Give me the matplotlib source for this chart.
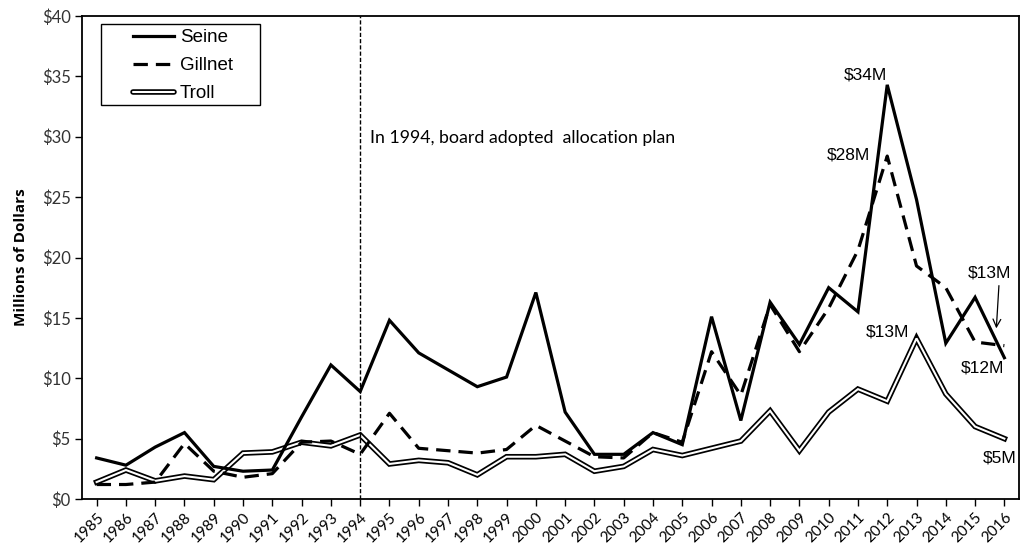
import matplotlib
matplotlib.use("Agg")
import matplotlib.pyplot as plt
import numpy as np
from matplotlib.lines import Line2D
from matplotlib.legend_handler import HandlerTuple
from matplotlib.patches import Rectangle

years = list(range(1985, 2017))
seine = [3.4, 2.8, 4.3, 5.5, 2.7, 2.3, 2.4, 6.8, 11.1, 8.9, 14.8, 12.1, 10.7, 9.3, 10.1, 17.1,
         7.2, 3.7, 3.7, 5.5, 4.5, 15.1, 6.5, 16.3, 12.8, 17.5, 15.5, 34.3, 24.8, 12.9, 16.7, 11.7]
gillnet = [1.2, 1.2, 1.4, 4.6, 2.3, 1.8, 2.1, 4.7, 4.8, 3.7, 7.1, 4.2, 4.0, 3.8, 4.1, 6.1,
           4.8, 3.5, 3.4, 5.5, 4.7, 12.2, 8.6, 16.1, 12.2, 15.8, 20.6, 28.4, 19.3, 17.5, 13.0, 12.7]
troll = [1.4, 2.4, 1.5, 1.9, 1.6, 3.8, 3.9, 4.7, 4.4, 5.3, 2.9, 3.2, 3.0, 2.0, 3.5, 3.5,
         3.7, 2.3, 2.7, 4.1, 3.6, 4.2, 4.8, 7.3, 4.0, 7.2, 9.1, 8.1, 13.3, 8.7, 6.0, 5.0]
yticks = [0, 5, 10, 15, 20, 25, 30, 35, 40]
ytick_labels = ["$0", "$5", "$10", "$15", "$20", "$25", "$30", "$35", "$40"]

fig = plt.figure(figsize=(10.26, 5.48), dpi=100)
ax = fig.add_axes([82/1026, 1-499/548, (1019-82)/1026, (499-16)/548])

x = np.arange(len(years))
ax.plot(x, seine, color="black", lw=2.3, solid_joinstyle="miter", zorder=4)
ax.plot(x, gillnet, color="black", lw=2.3, dashes=(4.5, 2.5), zorder=3)
ax.plot(x, troll, color="black", lw=4.0, zorder=2, solid_joinstyle="miter")
ax.plot(x, troll, color="white", lw=1.5, zorder=2.1, solid_joinstyle="miter")

# vertical line at 1994
ix94 = years.index(1994)
ax.axvline(ix94, color="black", lw=1.0, dashes=(3, 1.5), zorder=5)
ax.text(ix94 + 0.35, 29.9, "In 1994, board adopted  allocation plan", fontsize=12.8,
        family="Lato", va="center", ha="left")

ann_font = dict(fontsize=12.5, family="Liberation Sans", ha="center", va="center")
ax.text(26.24, 35.1, "$34M", **ann_font)
ax.text(25.66, 28.5, "$28M", **ann_font)
ax.text(30.5, 18.7, "$13M", **ann_font)
ax.text(27.0, 13.8, "$13M", **ann_font)
ax.text(30.27, 10.85, "$12M", **ann_font)
ax.text(30.85, 3.4, "$5M", **ann_font)
ax.annotate("", xy=(30.72, 13.9), xytext=(30.82, 17.9),
            arrowprops=dict(arrowstyle="->", color="black", lw=0.9, mutation_scale=14))

ax.set_xlim(-0.5, len(years) - 0.5)
ax.set_ylim(0, 40)
ax.set_xticks(x)
ax.set_xticklabels([str(y) for y in years], rotation=45, ha="right", rotation_mode="anchor",
                   fontsize=11, family="Lato")
ax.set_yticks(yticks)
ax.set_yticklabels(ytick_labels, fontsize=12, family="Lato", color="#333333")
ax.tick_params(axis="x", direction="out", length=5, width=1, pad=3)
ax.tick_params(axis="y", direction="out", length=5, width=1, pad=3)
for s in ax.spines.values():
    s.set_linewidth(1.3)
ax.set_ylabel("Millions of Dollars", fontsize=11, fontweight="bold", family="Open Sans", labelpad=10)

# legend box
ax.add_patch(Rectangle(((101-82)/937, (499-105)/483), (260-101)/937, (105-24)/483,
                       transform=ax.transAxes, facecolor="white", edgecolor="black",
                       lw=1.0, zorder=6))
h_seine = Line2D([], [], color="black", lw=2.3)
h_gill = Line2D([], [], color="black", lw=2.3, dashes=(4.5, 2.5))
h_troll_o = Line2D([], [], color="black", lw=4.0, solid_capstyle="round")
h_troll_i = Line2D([], [], color="white", lw=1.5, solid_capstyle="round")
leg = ax.legend([h_seine, h_gill, (h_troll_o, h_troll_i)], ["Seine", "Gillnet", "Troll"],
                handler_map={tuple: HandlerTuple(ndivide=1)},
                loc="upper left", bbox_to_anchor=((133-82)/937, (499-29)/483),
                borderaxespad=0, frameon=False,
                prop=dict(family="Liberation Sans", size=13.5), handlelength=2.2,
                handletextpad=0.3, labelspacing=0.58, borderpad=0)
leg.set_zorder(7)

fig.savefig("out.png", dpi=100)
